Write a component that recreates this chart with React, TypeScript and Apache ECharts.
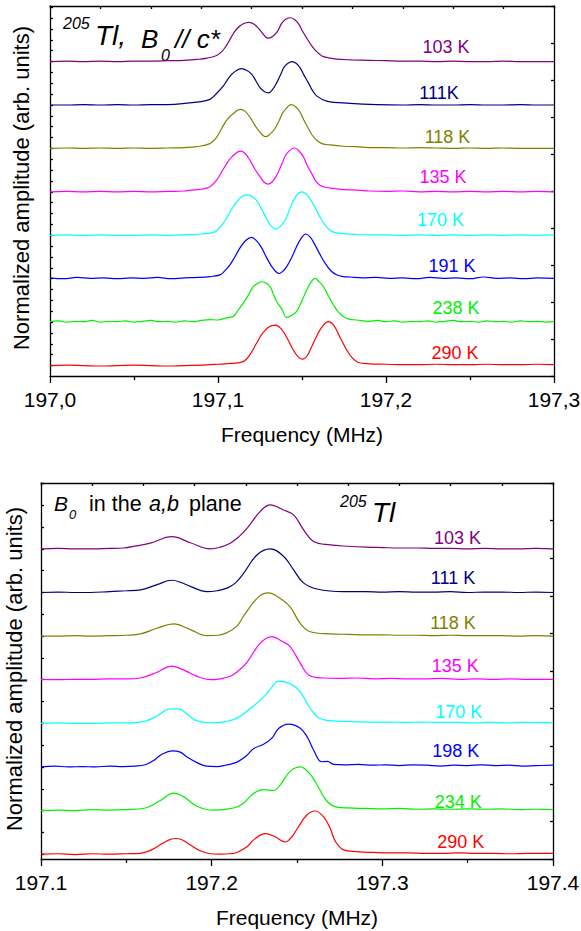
import React, { useEffect, useRef } from 'react';
import * as echarts from 'echarts';

// ---------- DATA (frequency MHz, normalized amplitude) ----------
// Top panel: 205Tl, B0 // c*
const top290: [number, number][] = [
  [197.000, 0.00], [197.010, 0.01], [197.020, 0.00], [197.030, -0.01], [197.040, 0.00], [197.050, 0.01],
  [197.060, 0.00], [197.070, -0.01], [197.080, 0.00], [197.090, 0.01], [197.100, 0.03], [197.108, 0.05],
  [197.115, 0.09], [197.119, 0.25], [197.123, 0.52], [197.1265, 0.74], [197.130, 0.88], [197.134, 0.93],
  [197.1375, 0.85], [197.141, 0.64], [197.1448, 0.36], [197.148, 0.19], [197.1505, 0.15], [197.153, 0.22],
  [197.1558, 0.44], [197.159, 0.70], [197.1625, 0.92], [197.1657, 1.01], [197.169, 0.92], [197.1725, 0.66],
  [197.1766, 0.36], [197.180, 0.17], [197.1835, 0.07], [197.190, 0.04], [197.200, 0.03], [197.210, 0.02],
  [197.220, 0.02], [197.230, 0.03], [197.240, 0.02], [197.250, 0.02], [197.260, 0.03], [197.270, 0.02],
  [197.280, 0.02], [197.290, 0.03], [197.300, 0.02],
];
const top238: [number, number][] = [
  [197.000, 0.01], [197.005, 0.03], [197.010, 0.00], [197.015, 0.02], [197.020, 0.01], [197.025, 0.04],
  [197.030, 0.00], [197.035, 0.02], [197.040, 0.01], [197.045, 0.03], [197.050, 0.00], [197.055, 0.02],
  [197.060, 0.04], [197.065, 0.01], [197.070, 0.02], [197.075, 0.00], [197.080, 0.03], [197.085, 0.01],
  [197.090, 0.04], [197.095, 0.06], [197.100, 0.05], [197.105, 0.10], [197.109, 0.13], [197.112, 0.28],
  [197.1151, 0.44], [197.118, 0.62], [197.121, 0.82], [197.124, 0.90], [197.126, 0.93], [197.1285, 0.90],
  [197.131, 0.82], [197.133, 0.64], [197.135, 0.47], [197.138, 0.30], [197.1409, 0.11], [197.1435, 0.15],
  [197.1468, 0.25], [197.150, 0.50], [197.1528, 0.74], [197.155, 0.90], [197.1577, 1.01], [197.160, 0.94],
  [197.1627, 0.82], [197.1655, 0.62], [197.1687, 0.40], [197.1715, 0.24], [197.1746, 0.13], [197.178, 0.07],
  [197.1825, 0.05], [197.190, 0.02], [197.195, 0.04], [197.200, 0.01], [197.205, 0.03], [197.210, 0.00],
  [197.215, 0.02], [197.220, 0.01], [197.225, 0.03], [197.230, 0.00], [197.235, 0.02], [197.240, 0.04],
  [197.245, 0.01], [197.250, 0.02], [197.255, 0.00], [197.260, 0.03], [197.265, 0.01], [197.270, 0.02],
  [197.275, 0.00], [197.280, 0.03], [197.285, 0.01], [197.290, 0.02], [197.295, 0.00], [197.300, 0.01],
];
const top191: [number, number][] = [
  [197.000, 0.02], [197.008, 0.00], [197.016, 0.03], [197.024, 0.01], [197.032, 0.02], [197.040, 0.00],
  [197.048, 0.02], [197.056, 0.01], [197.064, 0.03], [197.072, 0.00], [197.080, 0.02], [197.088, 0.03],
  [197.095, 0.05], [197.1012, 0.09], [197.104, 0.18], [197.1071, 0.32], [197.110, 0.50], [197.1131, 0.71],
  [197.1165, 0.88], [197.120, 0.95], [197.123, 0.87], [197.126, 0.71], [197.129, 0.48], [197.132, 0.28],
  [197.1345, 0.16], [197.1365, 0.12], [197.1385, 0.17], [197.1409, 0.28], [197.144, 0.50], [197.1468, 0.74],
  [197.1495, 0.93], [197.1522, 1.03], [197.155, 0.95], [197.1577, 0.78], [197.1607, 0.56], [197.1637, 0.36],
  [197.167, 0.19], [197.1706, 0.09], [197.1745, 0.05], [197.1786, 0.04], [197.186, 0.02], [197.194, 0.03],
  [197.202, 0.01], [197.210, 0.02], [197.218, 0.00], [197.226, 0.03], [197.234, 0.01], [197.242, 0.02],
  [197.250, 0.00], [197.258, 0.04], [197.266, 0.01], [197.274, 0.02], [197.282, 0.00], [197.290, 0.02],
  [197.300, 0.01],
];
const top170: [number, number][] = [
  [197.000, 0.00], [197.010, 0.01], [197.020, 0.00], [197.030, 0.01], [197.040, 0.00], [197.050, 0.00],
  [197.060, 0.01], [197.070, 0.00], [197.080, 0.01], [197.090, 0.03], [197.0982, 0.08], [197.101, 0.18],
  [197.1042, 0.34], [197.1075, 0.56], [197.1111, 0.77], [197.1145, 0.90], [197.1175, 0.93], [197.120, 0.90],
  [197.123, 0.80], [197.126, 0.60], [197.129, 0.38], [197.1315, 0.22], [197.1343, 0.14], [197.137, 0.20],
  [197.1399, 0.34], [197.1425, 0.58], [197.1448, 0.80], [197.1475, 0.95], [197.1498, 1.00], [197.1525, 0.95],
  [197.1548, 0.84], [197.158, 0.63], [197.1607, 0.42], [197.1637, 0.24], [197.1667, 0.11], [197.170, 0.06],
  [197.1746, 0.04], [197.182, 0.02], [197.190, 0.01], [197.200, 0.01], [197.210, 0.00], [197.220, 0.01],
  [197.230, 0.00], [197.240, 0.01], [197.250, 0.00], [197.260, 0.01], [197.270, 0.00], [197.280, 0.01],
  [197.290, 0.00], [197.300, 0.01],
];
const top135: [number, number][] = [
  [197.000, 0.00], [197.010, 0.01], [197.020, 0.00], [197.030, 0.01], [197.040, 0.00], [197.050, 0.01],
  [197.060, 0.00], [197.070, 0.01], [197.080, 0.02], [197.0833, 0.04], [197.090, 0.06], [197.0952, 0.12],
  [197.099, 0.26], [197.1022, 0.46], [197.105, 0.64], [197.1081, 0.80], [197.1135, 0.94], [197.116, 0.89],
  [197.119, 0.73], [197.122, 0.52], [197.125, 0.35], [197.1275, 0.22], [197.130, 0.18], [197.1325, 0.24],
  [197.1349, 0.38], [197.138, 0.64], [197.1409, 0.88], [197.1458, 1.01], [197.1485, 0.93], [197.1508, 0.81],
  [197.153, 0.62], [197.1558, 0.42], [197.158, 0.26], [197.1607, 0.15], [197.1645, 0.10], [197.1687, 0.08],
  [197.175, 0.05], [197.183, 0.04], [197.190, 0.02], [197.200, 0.01], [197.210, 0.02], [197.220, 0.00],
  [197.230, 0.01], [197.240, 0.00], [197.250, 0.01], [197.260, 0.00], [197.270, 0.01], [197.280, 0.00],
  [197.290, 0.01], [197.300, 0.00],
];
const top118: [number, number][] = [
  [197.000, 0.00], [197.010, 0.01], [197.020, 0.00], [197.030, 0.01], [197.040, 0.00], [197.050, 0.01],
  [197.060, 0.00], [197.070, 0.01], [197.080, 0.02], [197.087, 0.04], [197.0952, 0.11], [197.099, 0.25],
  [197.1022, 0.46], [197.105, 0.64], [197.1081, 0.77], [197.1135, 0.90], [197.116, 0.86], [197.119, 0.72],
  [197.1215, 0.56], [197.124, 0.42], [197.1265, 0.31], [197.1286, 0.27], [197.131, 0.33], [197.1339, 0.46],
  [197.1365, 0.65], [197.1389, 0.84], [197.1438, 1.01], [197.1465, 0.95], [197.1488, 0.84], [197.151, 0.66],
  [197.1538, 0.46], [197.156, 0.31], [197.1587, 0.19], [197.162, 0.11], [197.1667, 0.08], [197.175, 0.05],
  [197.1825, 0.04], [197.190, 0.02], [197.200, 0.02], [197.210, 0.01], [197.220, 0.02], [197.230, 0.01],
  [197.240, 0.00], [197.250, 0.01], [197.260, 0.00], [197.270, 0.01], [197.280, 0.00], [197.290, 0.00],
  [197.300, 0.00],
];
const top111: [number, number][] = [
  [197.000, 0.00], [197.010, 0.00], [197.020, 0.01], [197.030, 0.00], [197.040, 0.01], [197.050, 0.00],
  [197.060, 0.01], [197.070, 0.01], [197.0833, 0.05], [197.090, 0.08], [197.0952, 0.13], [197.099, 0.26],
  [197.1032, 0.44], [197.106, 0.60], [197.1091, 0.74], [197.1141, 0.84], [197.117, 0.80], [197.120, 0.71],
  [197.1225, 0.56], [197.125, 0.40], [197.1275, 0.31], [197.130, 0.28], [197.1325, 0.36], [197.1349, 0.51],
  [197.1375, 0.72], [197.1399, 0.90], [197.1442, 1.00], [197.1465, 0.96], [197.1488, 0.86], [197.151, 0.70],
  [197.1538, 0.51], [197.156, 0.35], [197.1587, 0.21], [197.1647, 0.09], [197.1786, 0.04], [197.1944, 0.01],
  [197.210, 0.00], [197.220, 0.01], [197.230, 0.00], [197.240, 0.00], [197.250, 0.01], [197.260, 0.00],
  [197.270, 0.00], [197.280, 0.01], [197.290, 0.00], [197.300, 0.00],
];
const top103: [number, number][] = [
  [197.000, 0.00], [197.010, 0.01], [197.020, 0.00], [197.030, 0.01], [197.040, 0.00], [197.050, 0.01],
  [197.060, 0.01], [197.070, 0.02], [197.080, 0.03], [197.0875, 0.05], [197.0935, 0.08], [197.0992, 0.14],
  [197.1025, 0.24], [197.1052, 0.38], [197.108, 0.57], [197.1111, 0.75], [197.115, 0.87], [197.1186, 0.905],
  [197.1215, 0.86], [197.124, 0.77], [197.127, 0.63], [197.1296, 0.54], [197.1325, 0.58], [197.1353, 0.69],
  [197.1379, 0.88], [197.1405, 0.98], [197.1433, 1.01], [197.1455, 0.97], [197.1478, 0.88], [197.150, 0.72],
  [197.1528, 0.54], [197.1555, 0.38], [197.1577, 0.27], [197.1605, 0.17], [197.1627, 0.115], [197.1706, 0.055],
  [197.180, 0.04], [197.190, 0.03], [197.200, 0.02], [197.210, 0.01], [197.220, 0.01], [197.230, 0.00],
  [197.240, 0.01], [197.250, 0.00], [197.260, 0.00], [197.270, 0.01], [197.280, 0.00], [197.290, 0.00],
  [197.300, 0.00],
];

// Bottom panel: 205Tl, B0 in the a,b plane
const bot290: [number, number][] = [
  [197.100, 0.00], [197.110, 0.01], [197.120, -0.01], [197.130, 0.01], [197.140, 0.00], [197.150, 0.01],
  [197.158, 0.02], [197.163, 0.07], [197.168, 0.17], [197.174, 0.31], [197.1787, 0.36], [197.1826, 0.33],
  [197.1875, 0.21], [197.1933, 0.08], [197.1992, 0.01], [197.205, 0.00], [197.2109, 0.01], [197.2148, 0.04],
  [197.2207, 0.17], [197.2249, 0.34], [197.2314, 0.47], [197.2372, 0.40], [197.2431, 0.28], [197.247, 0.40],
  [197.2509, 0.63], [197.2558, 0.90], [197.2607, 0.99], [197.2655, 0.86], [197.2695, 0.59], [197.2724, 0.30],
  [197.2773, 0.10], [197.285, 0.06], [197.295, 0.04], [197.305, 0.03], [197.315, 0.03], [197.325, 0.02],
  [197.335, 0.02], [197.345, 0.03], [197.355, 0.02], [197.365, 0.02], [197.375, 0.01], [197.385, 0.02],
  [197.400, 0.02],
];
const bot234: [number, number][] = [
  [197.100, 0.00], [197.110, 0.01], [197.120, 0.00], [197.130, 0.02], [197.140, 0.01], [197.150, 0.02],
  [197.1611, 0.06], [197.1699, 0.23], [197.1777, 0.40], [197.1835, 0.32], [197.1914, 0.10], [197.2011, 0.01],
  [197.2128, 0.06], [197.2187, 0.17], [197.2245, 0.39], [197.2304, 0.48], [197.2363, 0.46], [197.2402, 0.59],
  [197.246, 0.90], [197.2519, 1.00], [197.2578, 0.83], [197.2626, 0.53], [197.2675, 0.22], [197.2734, 0.08],
  [197.280, 0.06], [197.290, 0.05], [197.300, 0.04], [197.310, 0.05], [197.320, 0.03], [197.330, 0.04],
  [197.340, 0.03], [197.350, 0.04], [197.360, 0.03], [197.370, 0.04], [197.380, 0.02], [197.390, 0.03],
  [197.400, 0.02],
];
const bot198: [number, number][] = [
  [197.100, 0.00], [197.108, 0.02], [197.116, 0.00], [197.124, 0.01], [197.132, 0.00], [197.140, 0.02],
  [197.148, 0.01], [197.155, 0.02], [197.161, 0.05], [197.166, 0.15], [197.1709, 0.29], [197.1767, 0.37],
  [197.1816, 0.34], [197.1855, 0.23], [197.1914, 0.10], [197.197, 0.02], [197.203, 0.01], [197.208, 0.04],
  [197.2148, 0.11], [197.2207, 0.27], [197.2245, 0.42], [197.2304, 0.52], [197.2353, 0.66], [197.2392, 0.88],
  [197.245, 0.98], [197.2519, 0.89], [197.2558, 0.70], [197.2597, 0.39], [197.2645, 0.12], [197.2679, 0.13],
  [197.2714, 0.06], [197.278, 0.05], [197.286, 0.06], [197.294, 0.04], [197.302, 0.05], [197.310, 0.03],
  [197.318, 0.05], [197.326, 0.04], [197.334, 0.02], [197.342, 0.04], [197.350, 0.03], [197.358, 0.05],
  [197.366, 0.03], [197.374, 0.04], [197.382, 0.02], [197.390, 0.03], [197.400, 0.04],
];
const bot170: [number, number][] = [
  [197.100, 0.00], [197.110, 0.01], [197.120, 0.00], [197.1289, 0.00], [197.140, 0.01], [197.150, 0.01],
  [197.1601, 0.04], [197.168, 0.17], [197.1757, 0.33], [197.1806, 0.33], [197.1855, 0.22], [197.190, 0.08],
  [197.196, 0.02], [197.2011, 0.01], [197.208, 0.04], [197.2148, 0.12], [197.2226, 0.34], [197.2304, 0.60],
  [197.2353, 0.83], [197.2392, 0.97], [197.246, 0.91], [197.2519, 0.72], [197.2578, 0.34], [197.2636, 0.11],
  [197.2734, 0.05], [197.283, 0.04], [197.293, 0.03], [197.303, 0.03], [197.313, 0.02], [197.323, 0.03],
  [197.333, 0.02], [197.343, 0.02], [197.353, 0.01], [197.363, 0.02], [197.373, 0.01], [197.383, 0.02],
  [197.400, 0.01],
];
const bot135: [number, number][] = [
  [197.100, 0.01], [197.110, 0.00], [197.120, 0.01], [197.1289, 0.01], [197.140, 0.02], [197.150, 0.02],
  [197.1582, 0.04], [197.168, 0.17], [197.1767, 0.31], [197.182, 0.25], [197.1875, 0.15], [197.1933, 0.05],
  [197.1992, 0.00], [197.205, 0.02], [197.2109, 0.08], [197.2155, 0.20], [197.2207, 0.40], [197.2285, 0.84],
  [197.2353, 0.99], [197.2412, 0.88], [197.246, 0.76], [197.2519, 0.38], [197.2568, 0.11], [197.2655, 0.04],
  [197.275, 0.03], [197.285, 0.04], [197.295, 0.02], [197.305, 0.03], [197.315, 0.02], [197.325, 0.02],
  [197.335, 0.03], [197.345, 0.01], [197.355, 0.02], [197.365, 0.01], [197.375, 0.02], [197.385, 0.01],
  [197.400, 0.01],
];
const bot118: [number, number][] = [
  [197.100, 0.00], [197.110, 0.00], [197.120, 0.01], [197.1289, 0.00], [197.140, 0.01], [197.150, 0.02],
  [197.1582, 0.05], [197.168, 0.18], [197.1777, 0.28], [197.1875, 0.15], [197.1972, 0.01], [197.204, 0.02],
  [197.209, 0.08], [197.2148, 0.23], [197.2187, 0.46], [197.2275, 0.90], [197.2333, 0.99], [197.2402, 0.86],
  [197.246, 0.67], [197.2519, 0.29], [197.2578, 0.10], [197.2695, 0.05], [197.280, 0.04], [197.290, 0.03],
  [197.300, 0.03], [197.310, 0.02], [197.320, 0.02], [197.330, 0.01], [197.340, 0.02], [197.350, 0.01],
  [197.360, 0.01], [197.370, 0.01], [197.380, 0.00], [197.390, 0.01], [197.400, 0.00],
];
const bot111: [number, number][] = [
  [197.100, 0.00], [197.110, 0.01], [197.120, 0.00], [197.1289, 0.00], [197.140, 0.02], [197.150, 0.04],
  [197.1582, 0.06], [197.168, 0.18], [197.1767, 0.28], [197.182, 0.23], [197.1875, 0.14], [197.1972, 0.02],
  [197.203, 0.04], [197.209, 0.10], [197.214, 0.22], [197.2187, 0.44], [197.2265, 0.86], [197.2343, 1.00],
  [197.2421, 0.83], [197.248, 0.52], [197.2538, 0.22], [197.2617, 0.08], [197.2773, 0.02], [197.290, 0.02],
  [197.300, 0.01], [197.310, 0.02], [197.320, 0.01], [197.330, 0.01], [197.340, 0.02], [197.350, 0.00],
  [197.360, 0.01], [197.370, 0.01], [197.380, 0.00], [197.390, 0.01], [197.400, 0.00],
];
const bot103: [number, number][] = [
  [197.100, 0.00], [197.110, 0.01], [197.120, 0.00], [197.1289, 0.00], [197.140, 0.01], [197.1484, 0.02],
  [197.156, 0.07], [197.164, 0.13], [197.1767, 0.28], [197.1875, 0.14], [197.1992, 0.00], [197.205, 0.04],
  [197.2109, 0.13], [197.216, 0.28], [197.2207, 0.47], [197.2285, 0.86], [197.2343, 1.01], [197.2421, 0.89],
  [197.248, 0.78], [197.2538, 0.44], [197.2597, 0.17], [197.2695, 0.09], [197.280, 0.06], [197.291, 0.04],
  [197.300, 0.03], [197.310, 0.02], [197.320, 0.02], [197.330, 0.01], [197.340, 0.01], [197.350, 0.00],
  [197.360, 0.01], [197.370, 0.00], [197.380, 0.00], [197.390, 0.01], [197.400, 0.00],
];

// Trace order bottom -> top, labels and vertical stacking offsets
const topLabels = ['290 K', '238 K', '191 K', '170 K', '135 K', '118 K', '111K', '103 K'];
const botLabels = ['290 K', '234 K', '198 K', '170 K', '135 K', '118 K', '111 K', '103 K'];
const topSpectra = [top290, top238, top191, top170, top135, top118, top111, top103];
const botSpectra = [bot290, bot234, bot198, bot170, bot135, bot118, bot111, bot103];
const topOffsets = [0.24, 1.24, 2.24, 3.24, 4.24, 5.24, 6.24, 7.24];
const botOffsets = [0.11, 1.11, 2.11, 3.11, 4.11, 5.11, 6.11, 7.11];
const topTicks = ['197,0', '197,1', '197,2', '197,3'];
const botTicks = ['197.1', '197.2', '197.3', '197.4'];

// ---------- STYLE ----------
const COLORS = ['#FF0000', '#00F000', '#0000FF', '#00FFFF', '#FF00FF', '#808000', '#000080', '#800080'];
const FONT = 'Liberation Sans, Arial, Helvetica, sans-serif';
const AX = { color: '#000', width: 1.3 };

const topLabelPos = [[455, 353.3], [456, 308.3], [452, 266], [440.5, 220], [443, 177.3], [447.5, 136.7], [439, 92.7], [446, 46.7]];
const botLabelPos = [[460.8, 841.7], [458.3, 801.7], [455.8, 751], [458.7, 711.7], [455.3, 665.5], [453, 623.3], [453, 578.3], [457.5, 538]];

function mainX(grid: number, min: number, max: number, labels: string[]) {
  return {
    gridIndex: grid, type: 'value', min, max, interval: 0.1, position: 'bottom',
    axisLine: { show: true, onZero: false, lineStyle: AX },
    axisTick: { show: true, inside: false, length: 7, lineStyle: AX },
    minorTick: { show: true, splitNumber: 2, length: 4, lineStyle: AX },
    splitLine: { show: false }, minorSplitLine: { show: false },
    axisLabel: {
      show: true, margin: 13, fontSize: 21, color: '#000', fontFamily: FONT,
      showMinLabel: true, showMaxLabel: true, hideOverlap: false,
      formatter: (v: number) => labels[Math.round((v - min) / 0.1)] ?? '',
    },
    name: 'Frequency (MHz)', nameLocation: 'middle', nameGap: 48,
    nameTextStyle: { fontSize: 21, color: '#000', fontFamily: FONT },
  };
}
function frameAxis(grid: number, position: string) {
  return {
    gridIndex: grid, type: 'value', min: 0, max: 10, interval: 1, position,
    axisLine: { show: true, onZero: false, lineStyle: AX },
    axisTick: { show: true, inside: true, length: 3, lineStyle: AX },
    axisLabel: { show: false }, splitLine: { show: false },
  };
}
function leftY(grid: number, max: number, ticks: number[]) {
  return {
    gridIndex: grid, type: 'value', min: 0, max, position: 'left',
    axisLine: { show: true, onZero: false, lineStyle: AX },
    axisTick: { show: true, inside: true, length: 3, lineStyle: AX, customValues: ticks },
    axisLabel: { show: false }, splitLine: { show: false },
  };
}

function txt(text: string, x: number, y: number, size: number, color = '#000', italic = false, align = 'center', rotation = 0) {
  return {
    type: 'text', x, y, rotation, silent: true,
    style: {
      text, fill: color, fontSize: size, fontFamily: FONT, fontStyle: italic ? 'italic' : 'normal',
      textAlign: align, textVerticalAlign: 'middle',
    },
  };
}

export default function App() {
  const ref = useRef<HTMLDivElement>(null);
  useEffect(() => {
    if (!ref.current) return;
    const chart = echarts.init(ref.current, null, { renderer: 'svg' });
    const topLeftTicks = Array.from({ length: 34 }, (_, k) => topOffsets[0] + 0.25 * k);
    const botLeftTicks = Array.from({ length: 18 }, (_, k) => botOffsets[0] + 0.5 * k);

    const series: any[] = [];
    topSpectra.forEach((d, i) => {
      series.push({
        type: 'line', xAxisIndex: 0, yAxisIndex: 0, name: 'top ' + topLabels[i],
        data: d.map(([f, a]) => [f, a + topOffsets[i]]),
        showSymbol: false, symbol: 'none', smooth: 0.4, silent: true,
        lineStyle: { color: COLORS[i], width: 1.2 },
      });
    });
    botSpectra.forEach((d, i) => {
      series.push({
        type: 'line', xAxisIndex: 2, yAxisIndex: 2, name: 'bottom ' + botLabels[i],
        data: d.map(([f, a]) => [f, a + botOffsets[i]]),
        showSymbol: false, symbol: 'none', smooth: 0.4, silent: true,
        lineStyle: { color: COLORS[i], width: 1.2 },
      });
    });

    const graphic: any[] = [];
    topLabels.forEach((t, i) => graphic.push(txt(t, topLabelPos[i][0], topLabelPos[i][1], 18, COLORS[i])));
    botLabels.forEach((t, i) => graphic.push(txt(t, botLabelPos[i][0], botLabelPos[i][1], 18, COLORS[i])));
    // y axis titles
    graphic.push(txt('Normalized amplitude (arb. units)', 21, 188, 22, '#000', false, 'center', Math.PI / 2));
    graphic.push(txt('Normalized amplitude (arb. units)', 14, 669, 22, '#000', false, 'center', Math.PI / 2));
    // top annotation
    graphic.push(txt('205', 63, 23, 16, '#000', true, 'left'));
    graphic.push(txt('Tl,', 95, 35, 28, '#000', true, 'left'));
    graphic.push(txt('B', 141, 39, 26, '#000', true, 'left'));
    graphic.push(txt('0', 161, 55, 16, '#000', true, 'left'));
    graphic.push(txt('// c*', 175, 39, 26, '#000', true, 'left'));
    // bottom annotation
    graphic.push(txt('B', 54, 503.7, 21, '#000', true, 'left'));
    graphic.push(txt('0', 69, 514, 13, '#000', true, 'left'));
    graphic.push(txt('in the', 89, 503.7, 21.5, '#000', false, 'left'));
    graphic.push(txt('a,b', 149, 503.7, 21.5, '#000', true, 'left'));
    graphic.push(txt('plane', 189, 503.7, 21.5, '#000', false, 'left'));
    graphic.push(txt('205', 340, 501, 16, '#000', true, 'left'));
    graphic.push(txt('Tl', 372, 512.5, 28, '#000', true, 'left'));

    chart.setOption({
      animation: false,
      backgroundColor: '#fff',
      grid: [
        { left: 50, top: 6, width: 504, height: 370, outerBoundsMode: 'none', containLabel: false },
        { left: 41, top: 483, width: 512, height: 376, outerBoundsMode: 'none', containLabel: false },
      ],
      xAxis: [
        mainX(0, 197.0, 197.3, topTicks),
        frameAxis(0, 'top'),
        mainX(1, 197.1, 197.4, botTicks),
        frameAxis(1, 'top'),
      ],
      yAxis: [
        leftY(0, 8.52, topLeftTicks),
        frameAxis(0, 'right'),
        leftY(1, 8.62, botLeftTicks),
        frameAxis(1, 'right'),
      ],
      series,
      graphic,
    });
    return () => chart.dispose();
  }, []);
  return <div ref={ref} style={{ position: 'absolute', left: 0, top: 0, width: 581, height: 931 }} />;
}
